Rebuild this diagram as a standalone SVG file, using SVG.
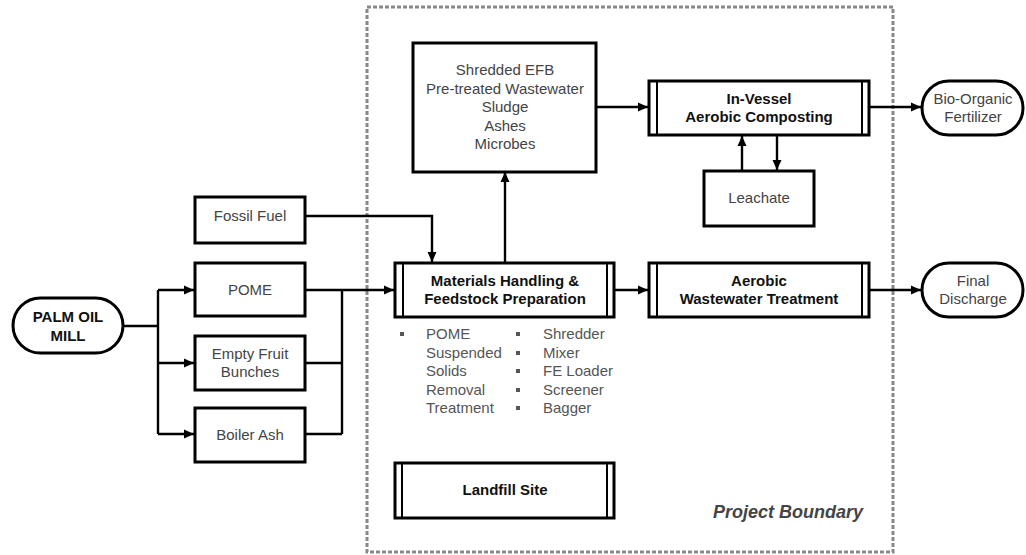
<svg xmlns="http://www.w3.org/2000/svg" width="1026" height="555" viewBox="0 0 1026 555">
<style>
.box{fill:#fff;stroke:#000;stroke-width:3}
.inner{stroke:#000;stroke-width:2}
.conn{fill:none;stroke:#000;stroke-width:2.4}
.t{font-family:"Liberation Sans",Arial,sans-serif;font-size:15px;fill:#444;text-anchor:middle}
.b{font-family:"Liberation Sans",Arial,sans-serif;font-size:15px;font-weight:bold;fill:#111;text-anchor:middle}
.l{font-family:"Liberation Sans",Arial,sans-serif;font-size:15px;fill:#555}
.bul{fill:#555}
</style>
<defs>
<marker id="ah" markerUnits="userSpaceOnUse" markerWidth="10" markerHeight="10" refX="10" refY="5" orient="auto">
<path d="M0,0.5 L10,5 L0,9.5 z" fill="#000"/>
</marker>
</defs>
<rect width="1026" height="555" fill="#fff"/>
<g id="boundary">
<rect x="367" y="7" width="526" height="545" fill="none" stroke="#888" stroke-width="3" stroke-dasharray="4 2"/>
<text x="863" y="518" text-anchor="end" font-family="'Liberation Sans',Arial,sans-serif" font-size="18" font-weight="bold" font-style="italic" fill="#444">Project Boundary</text>
</g>
<g id="connectors">
<path class="conn" d="M123,326 H158"/>
<path class="conn" d="M158,290 V434"/>
<path class="conn" d="M158,290 H194" marker-end="url(#ah)"/>
<path class="conn" d="M158,363 H194" marker-end="url(#ah)"/>
<path class="conn" d="M158,434 H194" marker-end="url(#ah)"/>
<path class="conn" d="M305,363 H342"/>
<path class="conn" d="M305,434 H342"/>
<path class="conn" d="M342,290 V434"/>
<path class="conn" d="M305,290 H394" marker-end="url(#ah)"/>
<path class="conn" d="M305,216 H432 V262" marker-end="url(#ah)"/>
<path class="conn" d="M505,263 V172" marker-end="url(#ah)"/>
<path class="conn" d="M596,107 H648" marker-end="url(#ah)"/>
<path class="conn" d="M869,107 H921" marker-end="url(#ah)"/>
<path class="conn" d="M742,171 V136" marker-end="url(#ah)"/>
<path class="conn" d="M777,135 V170" marker-end="url(#ah)"/>
<path class="conn" d="M614,290 H648" marker-end="url(#ah)"/>
<path class="conn" d="M869,290 H921" marker-end="url(#ah)"/>
</g>
<g id="palm-oil-mill">
<rect class="box" x="13" y="298" width="110" height="55" rx="27.5"/>
<text class="b" x="68" y="322" font-size="16">PALM OIL</text>
<text class="b" x="68" y="341" font-size="16">MILL</text>
</g>
<g id="fossil-fuel">
<rect class="box" x="195" y="197" width="110" height="46"/>
<text class="t" x="250" y="221">Fossil Fuel</text>
</g>
<g id="pome">
<rect class="box" x="195" y="263" width="110" height="53"/>
<text class="t" x="250" y="295">POME</text>
</g>
<g id="efb">
<rect class="box" x="195" y="336" width="110" height="54"/>
<text class="t" x="250" y="359">Empty Fruit</text>
<text class="t" x="250" y="377">Bunches</text>
</g>
<g id="boiler-ash">
<rect class="box" x="195" y="408" width="110" height="54"/>
<text class="t" x="250" y="440">Boiler Ash</text>
</g>
<g id="materials">
<rect class="box" x="395" y="263" width="219" height="54"/>
<line class="inner" x1="403" y1="263" x2="403" y2="317"/>
<line class="inner" x1="607" y1="263" x2="607" y2="317"/>
<text class="b" x="505" y="286">Materials Handling &amp;</text>
<text class="b" x="505" y="304">Feedstock Preparation</text>
<rect class="bul" x="400" y="332" width="4" height="4"/>
<text class="l" x="426" y="339">POME</text>
<text class="l" x="426" y="358">Suspended</text>
<text class="l" x="426" y="376">Solids</text>
<text class="l" x="426" y="395">Removal</text>
<text class="l" x="426" y="413">Treatment</text>
<rect class="bul" x="516" y="332" width="4" height="4"/>
<rect class="bul" x="516" y="351" width="4" height="4"/>
<rect class="bul" x="516" y="369" width="4" height="4"/>
<rect class="bul" x="516" y="388" width="4" height="4"/>
<rect class="bul" x="516" y="406" width="4" height="4"/>
<text class="l" x="543" y="339">Shredder</text>
<text class="l" x="543" y="358">Mixer</text>
<text class="l" x="543" y="376">FE Loader</text>
<text class="l" x="543" y="395">Screener</text>
<text class="l" x="543" y="413">Bagger</text>
</g>
<g id="inputs">
<rect class="box" x="413" y="43" width="183" height="129"/>
<text class="t" x="505" y="75">Shredded EFB</text>
<text class="t" x="505" y="94">Pre-treated Wastewater</text>
<text class="t" x="505" y="112">Sludge</text>
<text class="t" x="505" y="131">Ashes</text>
<text class="t" x="505" y="149">Microbes</text>
</g>
<g id="in-vessel">
<rect class="box" x="649" y="81" width="220" height="54"/>
<line class="inner" x1="657" y1="81" x2="657" y2="135"/>
<line class="inner" x1="862" y1="81" x2="862" y2="135"/>
<text class="b" x="759" y="104">In-Vessel</text>
<text class="b" x="759" y="122">Aerobic Composting</text>
</g>
<g id="leachate">
<rect class="box" x="704" y="171" width="110" height="55"/>
<text class="t" x="759" y="203">Leachate</text>
</g>
<g id="aerobic-wwt">
<rect class="box" x="649" y="263" width="220" height="54"/>
<line class="inner" x1="657" y1="263" x2="657" y2="317"/>
<line class="inner" x1="862" y1="263" x2="862" y2="317"/>
<text class="b" x="759" y="286">Aerobic</text>
<text class="b" x="759" y="304">Wastewater Treatment</text>
</g>
<g id="bio-organic">
<rect class="box" x="922" y="81" width="101" height="54" rx="27"/>
<text class="t" x="973" y="104">Bio-Organic</text>
<text class="t" x="973" y="122">Fertilizer</text>
</g>
<g id="final-discharge">
<rect class="box" x="922" y="263" width="101" height="54" rx="27"/>
<text class="t" x="973" y="286">Final</text>
<text class="t" x="973" y="304">Discharge</text>
</g>
<g id="landfill">
<rect class="box" x="395" y="463" width="219" height="55"/>
<line class="inner" x1="402" y1="463" x2="402" y2="518"/>
<line class="inner" x1="607" y1="463" x2="607" y2="518"/>
<text class="b" x="505" y="495" textLength="85" lengthAdjust="spacingAndGlyphs">Landfill Site</text>
</g>
</svg>
